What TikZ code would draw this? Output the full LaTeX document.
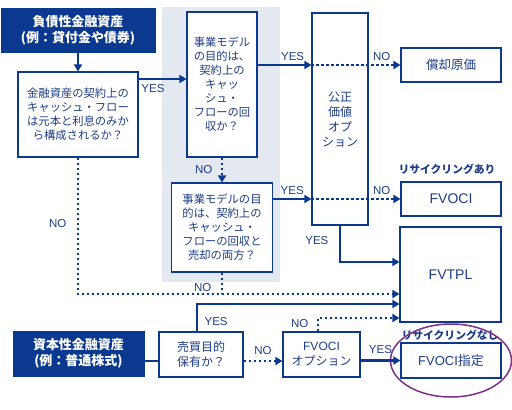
\documentclass[tikz,border=0pt]{standalone}
\usepackage{fontspec}
\setmainfont{Noto Sans CJK JP}
\newfontfamily\latinfont{Liberation Sans}
\usepackage{tikz}
\usetikzlibrary{arrows.meta,positioning,shapes.geometric,calc}
\definecolor{navy}{HTML}{0C3990}
\definecolor{inkblue}{HTML}{1E3D86}
\definecolor{shadegray}{HTML}{E4E8F1}
\definecolor{ringviolet}{HTML}{7D2F87}
\tikzset{
  srcbox/.style={
    rectangle, draw=navy, fill=navy, text=white,
    font=\fontsize{13}{16}\selectfont\bfseries, align=center, inner sep=0pt
  },
  qbox/.style={
    rectangle, draw=navy, fill=white, line width=1.1pt, text=inkblue,
    font=\fontsize{11.3}{14}\selectfont, align=center, inner sep=0pt
  },
  resbox/.style={
    rectangle, draw=navy, fill=white, line width=1.1pt, text=inkblue,
    font=\fontsize{#1}{15}\selectfont, align=center, inner sep=0pt
  },
  resbox/.default=12,
  flow/.style={
    -{Triangle[length=7pt,width=8pt]}, line width=2.5pt, color=#1
  },
  flow/.default=navy,
  dotflow/.style={
    flow, dash pattern=on 2.6pt off 2.4pt
  },
  lbl/.style={
    font=\latinfont\fontsize{11.5}{13}\selectfont, text=inkblue
  },
  tag/.style={
    font=\fontsize{10.8}{12}\selectfont\bfseries, text=inkblue
  },
}
\begin{document}
\begin{tikzpicture}[x=1pt, y=-1pt]
  \useasboundingbox (0,0) rectangle (512,410);
  % Business model test area
  \fill[shadegray] (162,7) rectangle (280,282);

  % Debt instruments
  \node[srcbox, minimum width=154pt, minimum height=44pt] (debt) at (78,30)
    {負債性金融資産\\(例：貸付金や債券)};
  \node[qbox, minimum width=120pt, minimum height=85pt] (q1) at (78,114.5)
    {金融資産の契約上の\\キャッシュ・フロー\\は元本と利息のみか\\ら構成されるか？};
  \node[qbox, minimum width=70pt, minimum height=145pt] (q2) at (222,84.5)
    {事業モデル\\の目的は、\\契約上の\\キャッ\\シュ・\\フローの回\\収か？};
  \node[qbox, minimum width=101pt, minimum height=89pt] (q3) at (222,227.5)
    {事業モデルの目\\的は、契約上の\\キャッシュ・\\フローの回収と\\売却の両方？};
  \node[resbox, minimum width=56pt, minimum height=212pt] (fvo) at (340,119)
    {公正\\価値\\オプ\\ション};

  % Results
  \node[resbox=12.5, minimum width=100pt, minimum height=34pt] (amort) at (451,65) {償却原価};
  \node[resbox=14, minimum width=100pt, minimum height=34pt] (fvoci) at (451,199) {\latinfont FVOCI};
  \node[resbox=14, minimum width=101pt, minimum height=95pt] (fvtpl) at (450.5,274.5) {\latinfont FVTPL};
  \node[resbox=13, minimum width=100pt, minimum height=35pt] (ocid) at (451,360.5) {{\latinfont FVOCI}指定};
  \node[tag] (tagA) at (447,169) {リサイクリングあり};
  \node[tag] (tagB) at (450,335) {リサイクリングなし};
  \node[draw=ringviolet, line width=1.5pt, ellipse, minimum width=121pt, minimum height=73pt] (ring) at (ocid) {};

  % Equity instruments
  \node[srcbox, minimum width=131pt, minimum height=45pt] (equity) at (78.5,353.5)
    {資本性金融資産\\(例：普通株式)};
  \node[resbox, minimum width=84pt, minimum height=45pt] (trade) at (201,354.5)
    {売買目的\\保有か？};
  \node[resbox, minimum width=77pt, minimum height=45pt] (ocio) at (321.5,354.5)
    {{\latinfont FVOCI}\\オプション};

  % Connectors
  \coordinate (p1) at ([yshift=35.5pt]q1.east);
  \coordinate (p2) at ([yshift=12.5pt]fvtpl.west);
  \coordinate (p3) at ([yshift=-19.5pt]fvtpl.west);
  \coordinate (p4) at ([yshift=-29.5pt]fvtpl.west);
  \coordinate (p5) at ([yshift=-43.5pt]fvtpl.west);
  \coordinate (p6) at ([yshift=-6.5pt]trade.east);

  \draw[flow] (debt.south) -- (q1.north);
  \draw[flow] (p1) -- (p1 -| q2.west) node[lbl, below=1pt, pos=0.3] {YES};
  \draw[flow] (q2.east |- amort) -- (fvo.west |- amort) node[lbl, above, pos=0.65] {YES};
  \draw[dotflow] (fvo.west |- amort) -- (amort.west) node[lbl, above, pos=0.79] {NO};
  \draw[dotflow] (q2.south) -- (q3.north) node[lbl, left=5pt, midway] {NO};
  \draw[flow] (q3.east |- fvoci) -- (fvo.west |- fvoci) node[lbl, above, pos=0.5] {YES};
  \draw[dotflow] (fvo.west |- fvoci) -- (fvoci.west) node[lbl, above, pos=0.79] {NO};
  \draw[flow] (fvo.south) |- (p2) node[lbl, left=7pt, pos=0.2] {YES};
  \draw[dotflow] (q1.south) |- (p3) node[lbl, left=7pt, pos=0.24] {NO};
  \draw[dotflow, -] (q3.south) -- (q3.south |- p3) node[lbl, left=6pt, pos=0.7] {NO};
  \draw[flow] ([xshift=-4pt]trade.north) |- (p4) node[lbl, right=3pt, pos=0.18] {YES};
  \draw[dotflow] ([xshift=-3.5pt]ocio.north) |- (p5) node[lbl, left=5pt, pos=0.28] {NO};
  \draw[flow, -] (equity.east |- p6) -- (trade.west |- p6);
  \draw[dotflow] (p6) -- (p6 -| ocio.west) node[lbl, above=2pt, midway] {NO};
  \draw[flow] (ocio.east |- ocid) -- (ocid.west) node[lbl, above=2pt, midway] {YES};
\end{tikzpicture}
\end{document}
